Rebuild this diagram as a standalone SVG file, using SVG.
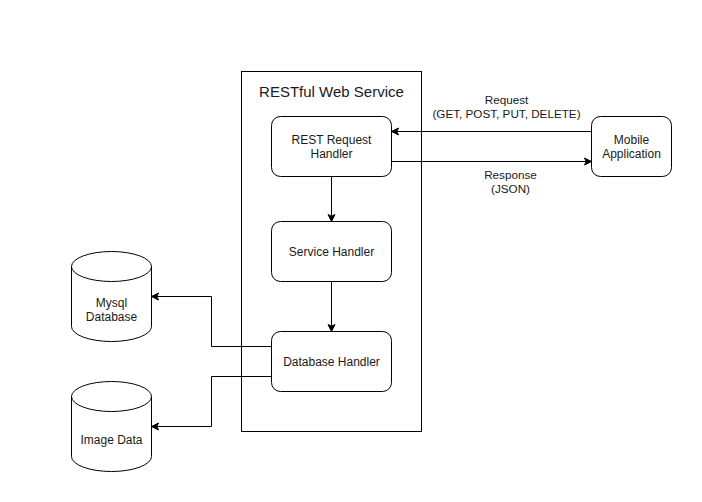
<svg xmlns="http://www.w3.org/2000/svg" width="702" height="502" viewBox="0 0 702 502">
<defs>
<style>
.box{fill:#fff;stroke:#000;stroke-width:1}
.t{font-family:"Liberation Sans",Arial,sans-serif;font-size:12px;fill:#1a1a1a;text-anchor:middle}
.lbl{font-family:"Liberation Sans",Arial,sans-serif;font-size:11.7px;fill:#1a1a1a;text-anchor:middle}
.title{font-family:"Liberation Sans",Arial,sans-serif;font-size:15px;fill:#1a1a1a;text-anchor:middle}
.edge{fill:none;stroke:#000;stroke-width:1}
</style>
<marker id="arr" markerUnits="userSpaceOnUse" markerWidth="10" markerHeight="10" refX="8" refY="5" orient="auto" viewBox="0 0 10 10">
<path d="M8,5 L1,1.5 L2.75,5 L1,8.5 Z" fill="#000" stroke="#000" stroke-width="1"/>
</marker>
</defs>
<rect width="702" height="502" fill="#fff"/>
<g id="restful-web-service">
<rect class="box" x="241.5" y="71.5" width="180" height="360"/>
<text class="title" x="331.5" y="97">RESTful Web Service</text>
</g>
<g id="rest-request-handler">
<rect class="box" x="271.5" y="116.5" width="120" height="60" rx="9" ry="9"/>
<text class="t" x="331.5" y="143.5">REST Request</text>
<text class="t" x="331.5" y="157.5">Handler</text>
</g>
<g id="service-handler">
<rect class="box" x="271.5" y="221.5" width="120" height="60" rx="9" ry="9"/>
<text class="t" x="331.5" y="255.8">Service Handler</text>
</g>
<g id="database-handler">
<rect class="box" x="271.5" y="331.5" width="120" height="60" rx="9" ry="9"/>
<text class="t" x="331.5" y="365.8">Database Handler</text>
</g>
<g id="mobile-application">
<rect class="box" x="591.5" y="116.5" width="80" height="60" rx="9" ry="9"/>
<text class="t" x="631.5" y="143.5">Mobile</text>
<text class="t" x="631.5" y="157.5">Application</text>
</g>
<g id="mysql-database">
<path class="box" d="M71.5,266.5 A40,15 0 0 1 151.5,266.5 L151.5,326.5 A40,15 0 0 1 71.5,326.5 Z"/>
<path class="edge" d="M71.5,266.5 A40,15 0 0 0 151.5,266.5"/>
<text class="t" x="111.5" y="307">Mysql</text>
<text class="t" x="111.5" y="321">Database</text>
</g>
<g id="image-data">
<path class="box" d="M71.5,396.5 A40,15 0 0 1 151.5,396.5 L151.5,456.5 A40,15 0 0 1 71.5,456.5 Z"/>
<path class="edge" d="M71.5,396.5 A40,15 0 0 0 151.5,396.5"/>
<text class="t" x="111.5" y="444">Image Data</text>
</g>
<g id="connectors">
<path class="edge" d="M591.5,131.5 L391.5,131.5" marker-end="url(#arr)"/>
<path class="edge" d="M391.5,161.5 L591.5,161.5" marker-end="url(#arr)"/>
<path class="edge" d="M331.5,176.5 L331.5,221.5" marker-end="url(#arr)"/>
<path class="edge" d="M331.5,281.5 L331.5,331.5" marker-end="url(#arr)"/>
<path class="edge" d="M271.5,346.5 L211.5,346.5 L211.5,296.5 L151.5,296.5" marker-end="url(#arr)"/>
<path class="edge" d="M271.5,376.5 L211.5,376.5 L211.5,426.5 L151.5,426.5" marker-end="url(#arr)"/>
<text class="lbl" x="506.5" y="103.5">Request</text>
<text class="lbl" x="506.5" y="118">(GET, POST, PUT, DELETE)</text>
<text class="lbl" x="510.5" y="179">Response</text>
<text class="lbl" x="510.5" y="193">(JSON)</text>
</g>
</svg>
